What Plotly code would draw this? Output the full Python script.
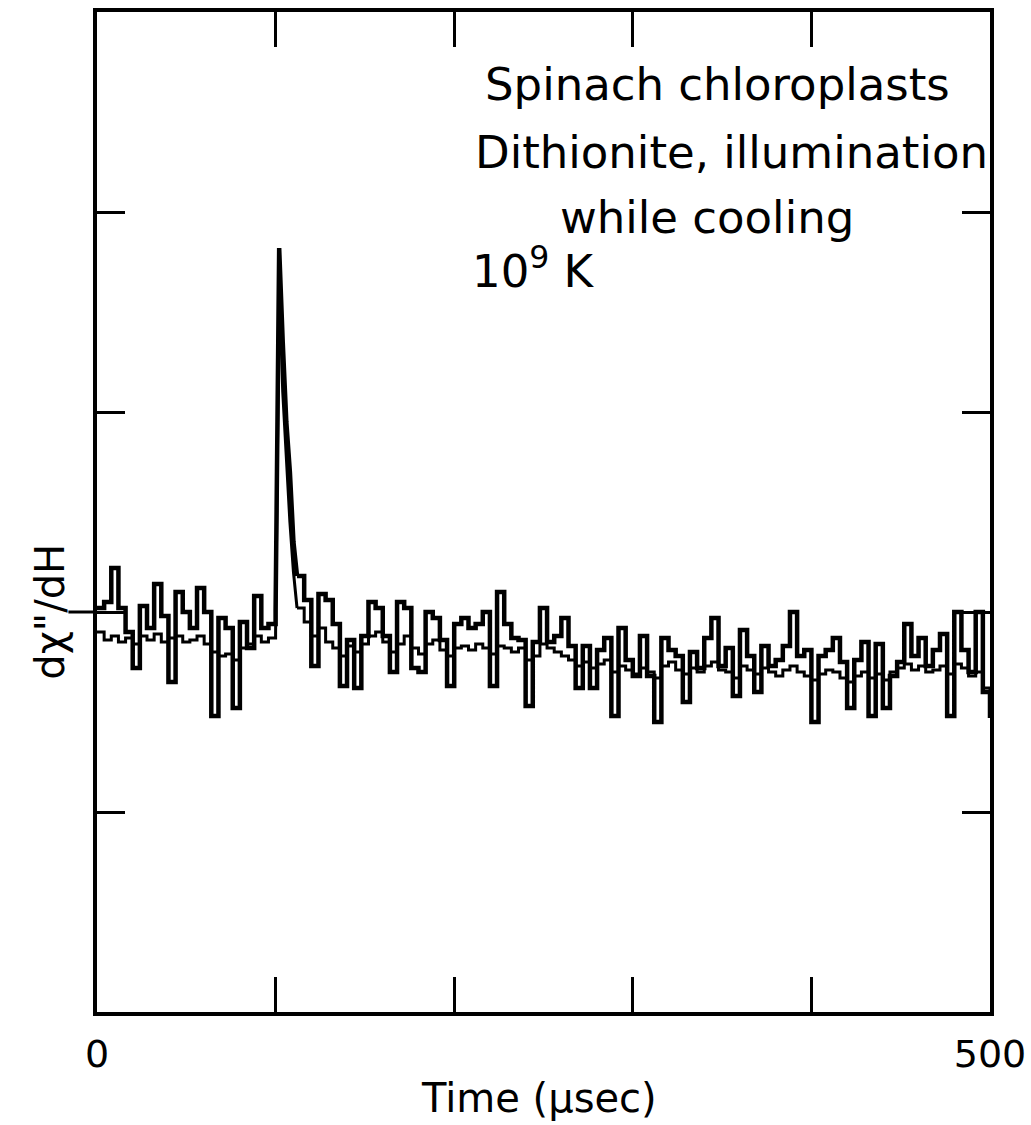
import plotly.graph_objects as go

# Time (usec)
time_us = [0, 4, 8, 12, 16, 20, 24, 28, 32, 36, 40, 44, 48, 52, 56, 60, 64, 68, 72, 76, 80, 84, 88, 92, 96, 100,
           102, 104, 106, 108, 110, 112,
           116, 120, 124, 128, 132, 136, 140, 144, 148, 152, 156, 160, 164, 168, 172, 176, 180, 184, 188, 192, 196, 200,
           204, 208, 212, 216, 220, 224, 228, 232, 236, 240, 244, 248, 252, 256, 260, 264, 268, 272, 276, 280, 284, 288, 292, 296, 300,
           304, 308, 312, 316, 320, 324, 328, 332, 336, 340, 344, 348, 352, 356, 360, 364, 368, 372, 376, 380, 384, 388, 392, 396, 400,
           404, 408, 412, 416, 420, 424, 428, 432, 436, 440, 444, 448, 452, 456, 460, 464, 468, 472, 476, 480, 484, 488, 492, 496, 500]

# Upper (noisier) sweep
signal_a = [0.02, 0.05, 0.22, 0.02, -0.10, -0.28, 0.03, -0.08, 0.14, -0.02, -0.35, 0.10, 0.00, -0.08, 0.12, 0.00, -0.52, -0.03, -0.08, -0.48, -0.05, -0.18, 0.08, -0.08, -0.06, 0.01,
            1.82, 1.35, 0.95, 0.70, 0.35, 0.18,
            0.06, -0.27, 0.09, 0.06, -0.06, -0.37, -0.14, -0.38, -0.12, 0.05, 0.02, -0.12, -0.30, 0.05, 0.02, -0.28, -0.30, 0.00, -0.03, -0.14, -0.37, -0.06,
            -0.03, -0.08, -0.06, 0.00, -0.37, 0.10, -0.06, -0.13, -0.14, -0.47, -0.15, 0.02, -0.15, -0.12, -0.03, -0.17, -0.38, -0.17, -0.38, -0.19, -0.13, -0.52, -0.08, -0.24, -0.32,
            -0.12, -0.32, -0.55, -0.13, -0.19, -0.22, -0.45, -0.20, -0.28, -0.13, -0.03, -0.27, -0.18, -0.42, -0.09, -0.22, -0.40, -0.17, -0.27, -0.24, -0.17, 0.00, -0.22, -0.19, -0.55,
            -0.22, -0.19, -0.13, -0.25, -0.48, -0.24, -0.15, -0.52, -0.16, -0.48, -0.32, -0.25, -0.06, -0.22, -0.13, -0.27, -0.19, -0.11, -0.52, 0.00, -0.19, -0.30, 0.00, -0.40, -0.53]

# Lower (smoother) sweep
signal_b = [-0.10, -0.14, -0.12, -0.15, -0.13, -0.16, -0.12, -0.14, -0.11, -0.15, -0.13, -0.12, -0.15, -0.14, -0.12, -0.16, -0.20, -0.22, -0.21, -0.24, -0.18, -0.16, -0.12, -0.15, -0.13, -0.10,
            1.65, 1.10, 0.75, 0.45, 0.20, 0.02,
            -0.05, -0.12, -0.08, -0.15, -0.18, -0.22, -0.17, -0.20, -0.16, -0.12, -0.10, -0.15, -0.20, -0.16, -0.12, -0.18, -0.21, -0.16, -0.14, -0.19, -0.22, -0.18,
            -0.17, -0.19, -0.16, -0.18, -0.21, -0.17, -0.18, -0.20, -0.18, -0.24, -0.22, -0.16, -0.18, -0.20, -0.22, -0.24, -0.27, -0.25, -0.28, -0.26, -0.24, -0.30, -0.27, -0.29, -0.31,
            -0.28, -0.30, -0.33, -0.27, -0.25, -0.29, -0.31, -0.28, -0.30, -0.27, -0.25, -0.29, -0.30, -0.33, -0.27, -0.29, -0.31, -0.28, -0.30, -0.32, -0.29, -0.27, -0.30, -0.32, -0.34,
            -0.31, -0.29, -0.30, -0.33, -0.35, -0.32, -0.30, -0.33, -0.31, -0.34, -0.30, -0.28, -0.26, -0.29, -0.27, -0.30, -0.29, -0.27, -0.31, -0.26, -0.28, -0.32, -0.30, -0.38, -0.53]

# index range of the pulse (drawn as a smooth line; the rest as steps)
spike_start, spike_end = 25, 31

x_label_vals = [0, 500]
x_label_text = ["0", "500"]
x_minor_vals = [100, 200, 300, 400]
y_tick_vals = [-1, 0, 1, 2]

label_lines = ["Spinach chloroplasts", "Dithionite, illumination", "while cooling", "10<sup>9</sup> K"]
x_title = "Time (\u03bcsec)"
y_title = "d\u03c7\"/dH"

FONT = "DejaVu Sans, Liberation Sans, sans-serif"

fig = go.Figure()
for series, width in ((signal_b, 3), (signal_a, 4.5)):
    parts = [
        (slice(0, spike_start + 1), "hv"),
        (slice(spike_start, spike_end + 1), "linear"),
        (slice(spike_end, None), "hv"),
    ]
    for sl, shape in parts:
        fig.add_trace(go.Scatter(x=time_us[sl], y=series[sl], mode="lines", line_shape=shape,
                                 line=dict(color="black", width=width), showlegend=False,
                                 hoverinfo="skip"))

fig.update_layout(
    width=1031, height=1125,
    margin=dict(l=97, r=41, t=12, b=113),
    paper_bgcolor="white", plot_bgcolor="white",
    font=dict(family=FONT, color="black", size=38),
    xaxis=dict(range=[0, 500], tickvals=x_label_vals, ticktext=x_label_text,
               ticks="inside", ticklen=35, tickwidth=3, tickcolor="black",
               minor=dict(tickvals=x_minor_vals, ticks="inside", ticklen=35,
                          tickwidth=3, tickcolor="black", showgrid=False),
               showline=True, linewidth=3.5, linecolor="black", mirror="ticks",
               showgrid=False, zeroline=False, ticklabelstandoff=6,
               tickfont=dict(size=38), automargin=False),
    yaxis=dict(range=[-2, 3], tickvals=y_tick_vals, showticklabels=False,
               ticks="inside", ticklen=28, tickwidth=3, tickcolor="black",
               showline=True, linewidth=3.5, linecolor="black", mirror="ticks",
               showgrid=False, zeroline=False, automargin=False),
)

# outward tick on the left axis at the baseline
fig.add_shape(type="line", xref="paper", yref="y", x0=-0.032, x1=0, y0=0, y1=0,
              line=dict(color="black", width=3))

# axis titles
fig.add_annotation(text=x_title, xref="paper", yref="paper", x=0.495, y=-0.086,
                   xanchor="center", yanchor="middle", showarrow=False,
                   font=dict(family=FONT, size=40, color="black"))
fig.add_annotation(text=y_title, xref="paper", yref="y", x=-0.053, y=0,
                   xanchor="center", yanchor="middle", showarrow=False, textangle=-90,
                   font=dict(family=FONT, size=40, color="black"))

ann_x = [0.432, 0.421, 0.516, 0.418]
ann_y = [0.927, 0.860, 0.794, 0.744]
for txt, ax, ay in zip(label_lines, ann_x, ann_y):
    fig.add_annotation(text=txt, xref="paper", yref="paper", x=ax, y=ay,
                       xanchor="left", yanchor="middle", showarrow=False,
                       font=dict(family=FONT, size=45, color="black"))

fig.write_html("out.html", config={"displayModeBar": False},
               post_script="document.body.style.margin='0';document.body.style.padding='0';")
